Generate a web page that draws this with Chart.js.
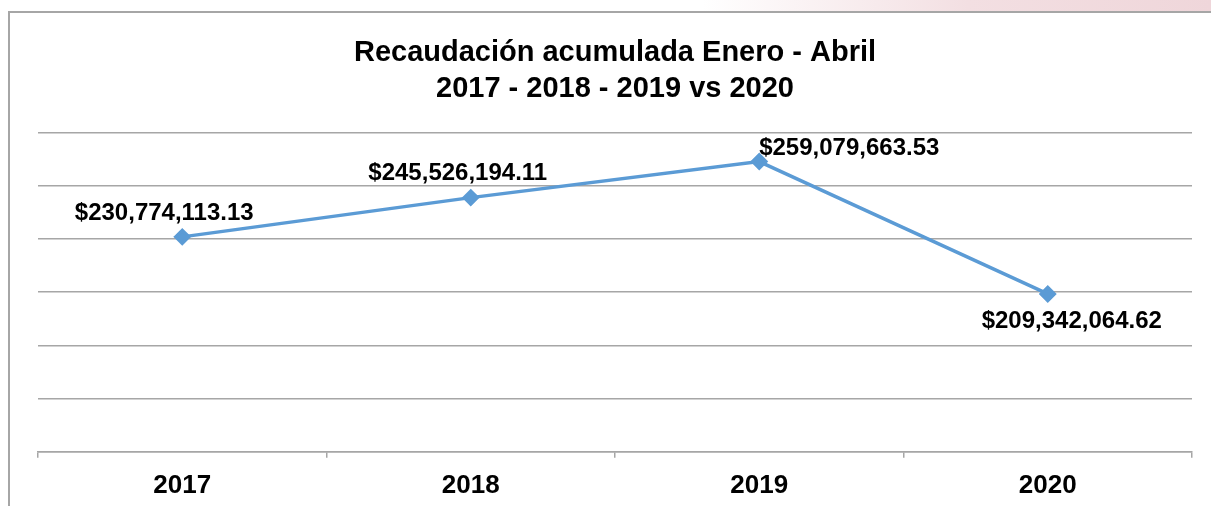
<!DOCTYPE html>
<html>
<head>
<meta charset="utf-8">
<script src="https://cdn.jsdelivr.net/npm/chart.js@4"></script>
<style>
  html, body { margin: 0; padding: 0; background: #fff; }
  body { width: 1211px; height: 506px; position: relative; overflow: hidden; font-family: "Liberation Sans", Arial, sans-serif; }
  #band { position: absolute; left: 0; top: 0; width: 1211px; height: 12px;
          background: linear-gradient(to right, rgba(255,255,255,0) 58%, #f3dfe2 80%, #efd6da 100%); }
  #frame { position: absolute; left: 8px; top: 11px; width: 1220px; height: 520px;
           border-left: 2px solid #a6a6a6; border-top: 2px solid #a6a6a6; }
  #wrap { position: absolute; left: 0; top: 0; width: 1211px; height: 521px; }
</style>
</head>
<body>
<div id="band"></div>
<div id="frame"></div>
<div id="wrap"><canvas id="recaudacionChart" width="1211" height="521"></canvas></div>
<script>
// Recaudación acumulada Enero - Abril
const years = ['2017', '2018', '2019', '2020'];
const recaudacion = [230774113.13, 245526194.11, 259079663.53, 209342064.62];
const titleLines = ['Recaudación acumulada Enero - Abril', '2017 - 2018 - 2019 vs 2020'];

const fmtMoney = v => '$' + v.toLocaleString('en-US', { minimumFractionDigits: 2, maximumFractionDigits: 2 });

// etiquetas de datos, colocadas como en el original
const dataLabels = {
  id: 'dataLabels',
  afterDatasetsDraw(chart) {
    const offsets = [[-18, -23], [-13, -24], [90, -13], [24, 27]];
    const ctx = chart.ctx;
    const meta = chart.getDatasetMeta(0);
    ctx.save();
    ctx.font = 'bold 24px "Liberation Sans", Arial, sans-serif';
    ctx.fillStyle = '#000';
    ctx.textAlign = 'center';
    ctx.textBaseline = 'middle';
    meta.data.forEach((pt, i) => {
      ctx.fillText(fmtMoney(recaudacion[i]), pt.x + offsets[i][0], pt.y + offsets[i][1]);
    });
    ctx.restore();
  }
};

const ctx = document.getElementById('recaudacionChart').getContext('2d');
const recaudacionChart = new Chart(ctx, {
  type: 'line',
  data: {
    labels: years,
    datasets: [{
      label: 'Recaudación',
      data: recaudacion,
      borderColor: 'rgb(91, 155, 213)',
      backgroundColor: 'rgb(91, 155, 213)',
      borderWidth: 3.5,
      pointStyle: 'rectRot',
      pointRadius: 6.5,
      pointHoverRadius: 6.5,
      tension: 0
    }]
  },
  options: {
    responsive: false,
    animation: false,
    devicePixelRatio: 1,
    layout: { padding: { left: 38, right: 19, top: 35, bottom: 8 } },
    plugins: {
      legend: { display: false },
      tooltip: { enabled: false },
      title: {
        display: true,
        text: titleLines,
        color: '#000',
        font: { family: '"Liberation Sans", Arial, sans-serif', size: 29, weight: 'bold', lineHeight: 1.25 },
        padding: { top: 0, bottom: 25 }
      }
    },
    scales: {
      x: {
        offset: true,
        grid: { offset: true, drawOnChartArea: false, drawTicks: true, tickLength: 6, color: '#a6a6a6', lineWidth: 1.5 },
        border: { display: true, color: '#a6a6a6', width: 1.5 },
        ticks: { color: '#000', padding: 12, font: { family: '"Liberation Sans", Arial, sans-serif', size: 26, weight: 'bold' } }
      },
      y: {
        min: 150000000,
        max: 270000000,
        ticks: { display: false, stepSize: 20000000 },
        grid: { color: '#a6a6a6', lineWidth: 1.5, drawTicks: false },
        border: { display: false }
      }
    }
  },
  plugins: [dataLabels]
});
</script>
</body>
</html>
